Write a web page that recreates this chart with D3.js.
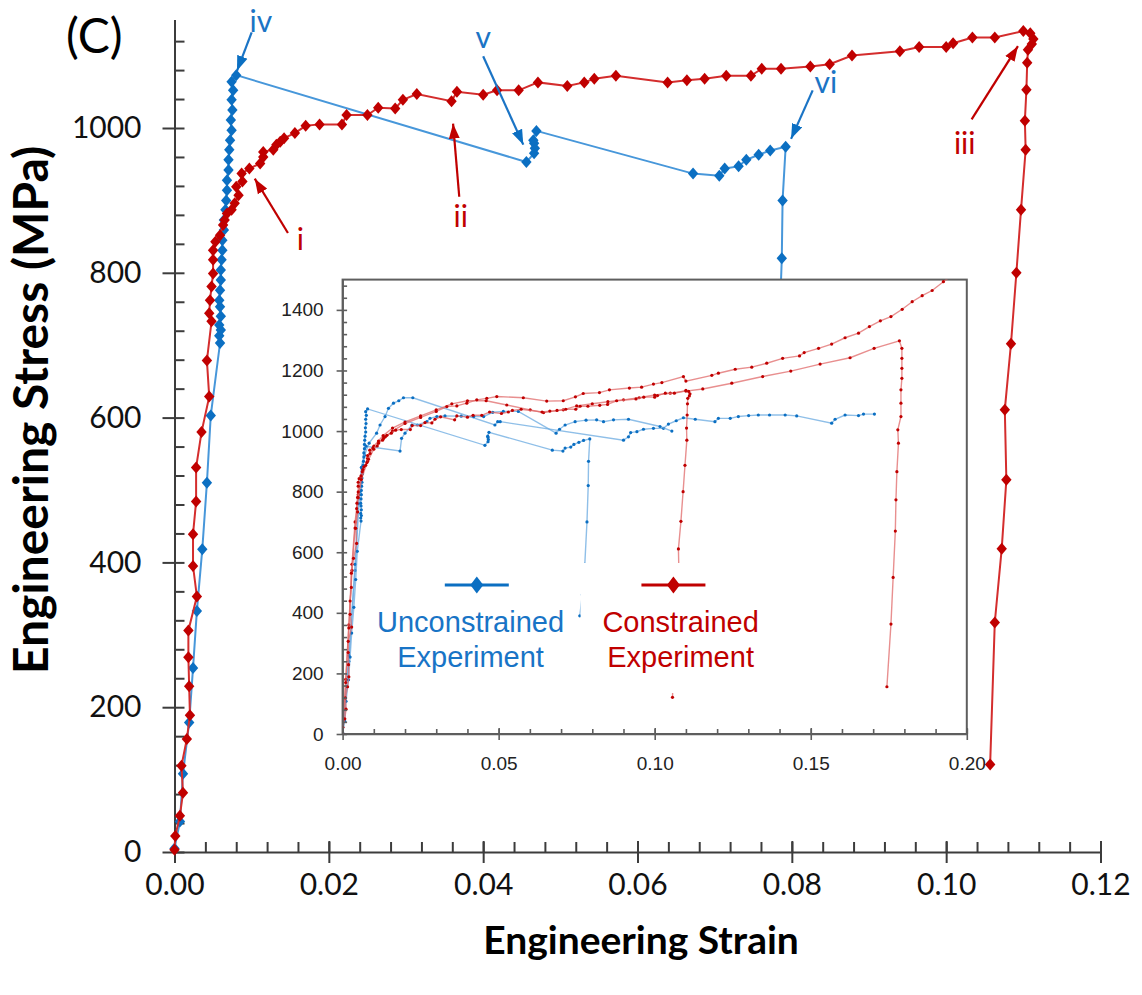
<!DOCTYPE html>
<html>
<head>
<meta charset="utf-8">
<script src="https://cdn.jsdelivr.net/npm/d3@7"></script>
<style>
  body { margin: 0; background: #fff; }
  svg { display: block; }
</style>
</head>
<body>
<script>
// Main test, unconstrained [strain, stress MPa]
const unconstrained = [
  [0, 5], [0.0007, 42], [0.0011, 108], [0.0019, 179], [0.0024, 254], [0.0029, 333],
  [0.0036, 418], [0.0042, 510], [0.0047, 603], [0.0059, 703], [0.0058, 713], [0.0060, 721],
  [0.0058, 728], [0.0060, 740], [0.0059, 753], [0.0058, 762], [0.0059, 776], [0.0060, 790],
  [0.0060, 804], [0.0061, 818], [0.0062, 831], [0.0062, 845], [0.0064, 859], [0.0064, 873],
  [0.0066, 887], [0.0067, 900], [0.0068, 914], [0.0068, 928], [0.0070, 942], [0.0070, 956],
  [0.0071, 970], [0.0072, 983], [0.0074, 997], [0.0073, 1011], [0.0075, 1025], [0.0074, 1039],
  [0.0076, 1052], [0.0074, 1064], [0.0080, 1073],
  [0.0456, 953], [0.0466, 965], [0.0467, 972], [0.0466, 979], [0.0465, 983], [0.0469, 996],
  [0.0672, 937], [0.0706, 934], [0.0713, 944], [0.0731, 947], [0.0741, 956], [0.0757, 963],
  [0.0772, 969], [0.0792, 974], [0.0788, 900], [0.0787, 820], [0.0783, 700], [0.0776, 560],
  [0.0768, 460], [0.0760, 390]
]

// Main test, constrained
const constrained = [
  [0, 3], [0.0001, 22], [0.0007, 50], [0.0011, 82], [0.0009, 119], [0.0016, 156], [0.0020, 189],
  [0.0019, 229], [0.0018, 269], [0.0018, 306], [0.0029, 353], [0.0024, 395], [0.0024, 439],
  [0.0028, 484], [0.0028, 531], [0.0035, 580], [0.0045, 629], [0.0042, 679], [0.0048, 733],
  [0.0045, 744], [0.0046, 762], [0.0048, 781], [0.0050, 799], [0.0050, 818], [0.0050, 831],
  [0.0053, 843], [0.0059, 852], [0.0063, 866], [0.0065, 873], [0.0068, 882], [0.0074, 887],
  [0.0078, 896], [0.0083, 907], [0.0080, 919], [0.0088, 926], [0.0087, 937], [0.0097, 944],
  [0.0111, 951], [0.0115, 960], [0.0115, 967], [0.0128, 970], [0.0132, 977], [0.0137, 981],
  [0.0142, 986], [0.0156, 993], [0.0170, 1003], [0.0188, 1005], [0.0217, 1005], [0.0223, 1018],
  [0.0250, 1018], [0.0264, 1028], [0.0286, 1027], [0.0296, 1039], [0.0314, 1047], [0.0359, 1037],
  [0.0366, 1050], [0.0400, 1046], [0.0418, 1052], [0.0446, 1052], [0.0471, 1063], [0.0509, 1058],
  [0.0531, 1063], [0.0544, 1068], [0.0572, 1072], [0.0639, 1063], [0.0664, 1066], [0.0687, 1068],
  [0.0715, 1072], [0.0747, 1072], [0.0761, 1082], [0.0786, 1082], [0.0824, 1085], [0.0849, 1088],
  [0.0878, 1100], [0.0940, 1106], [0.0965, 1112], [0.1000, 1112], [0.1009, 1117], [0.1034, 1125],
  [0.1063, 1125], [0.1100, 1134], [0.1109, 1131], [0.1113, 1123], [0.1111, 1116], [0.1106, 1108],
  [0.1105, 1090], [0.1104, 1053], [0.1102, 1010], [0.1103, 970], [0.1097, 887], [0.1091, 800],
  [0.1084, 702], [0.1076, 611], [0.1078, 514], [0.1072, 419], [0.1063, 317], [0.1057, 121]
]

// Other tests, only in the inset
const unconstrained2 = [
  [0, 0], [0.002, 240], [0.004, 540], [0.0055, 800], [0.007, 920], [0.0085, 960], [0.0109, 993],
  [0.012, 1020], [0.0136, 1048], [0.0147, 1075], [0.0163, 1092], [0.018, 1100], [0.0195, 1110],
  [0.0225, 1110], [0.0488, 1020], [0.0497, 1031], [0.0505, 1031], [0.090, 970], [0.0916, 981],
  [0.0923, 995], [0.0943, 998], [0.0964, 1006], [0.0996, 1009], [0.1028, 1009], [0.1044, 1023],
  [0.1069, 1034], [0.1092, 1044], [0.113, 1039], [0.1193, 1031], [0.1204, 1042], [0.1242, 1042],
  [0.1268, 1048], [0.1301, 1051], [0.1332, 1053], [0.1368, 1053], [0.1418, 1053], [0.1455, 1050],
  [0.1567, 1026], [0.1578, 1039], [0.161, 1053], [0.1653, 1051], [0.1669, 1056], [0.1704, 1056]
]
const unconstrained3 = [
  [0, 0], [0.002, 260], [0.004, 560], [0.005, 760], [0.006, 880], [0.0075, 950], [0.0184, 934],
  [0.0189, 976], [0.020, 993], [0.0222, 1020], [0.024, 1020], [0.027, 1031], [0.028, 1042],
  [0.0302, 1048], [0.0328, 1050], [0.038, 1049], [0.042, 1048], [0.0452, 1048], [0.0481, 1062],
  [0.0515, 1065], [0.0563, 1065], [0.0684, 993], [0.0695, 1006], [0.0713, 1020], [0.0745, 1031],
  [0.078, 1036], [0.0814, 1037], [0.0836, 1031], [0.0868, 1037], [0.0916, 1039], [0.1017, 1015],
  [0.1055, 1000]
]
const constrained2 = [
  [0, 0], [0.001, 180], [0.002, 360], [0.003, 560], [0.004, 700], [0.005, 790], [0.006, 850],
  [0.008, 910], [0.010, 950], [0.013, 985], [0.016, 1010], [0.020, 1030], [0.025, 1050],
  [0.030, 1070], [0.035, 1090], [0.040, 1100], [0.046, 1100], [0.0526, 1086], [0.0601, 1070],
  [0.0644, 1061], [0.0707, 1070], [0.075, 1083], [0.080, 1090], [0.085, 1097], [0.090, 1103],
  [0.095, 1110], [0.100, 1119], [0.105, 1125], [0.110, 1132], [0.1154, 1139], [0.1247, 1158],
  [0.1346, 1180], [0.1436, 1198], [0.153, 1221], [0.1626, 1242], [0.1703, 1273], [0.1784, 1298],
  [0.1792, 1273], [0.1792, 1240], [0.1792, 1207], [0.1792, 1174], [0.1789, 1136], [0.1789, 1092],
  [0.1789, 1048], [0.1779, 1004], [0.1781, 960], [0.1776, 866], [0.1773, 773], [0.1771, 670],
  [0.1764, 517], [0.1757, 363], [0.1744, 156]
]
const constrained3 = [
  [0, 0], [0.001, 170], [0.002, 350], [0.003, 540], [0.004, 680], [0.005, 780], [0.006, 840],
  [0.008, 900], [0.010, 940], [0.013, 975], [0.016, 1000], [0.020, 1025], [0.025, 1045],
  [0.030, 1065], [0.0334, 1081], [0.0366, 1083], [0.0398, 1092], [0.043, 1103], [0.0462, 1108],
  [0.0494, 1114], [0.0579, 1110], [0.0654, 1099], [0.0707, 1100], [0.0746, 1113], [0.0771, 1124],
  [0.0823, 1127], [0.0855, 1136], [0.0919, 1142], [0.0958, 1145], [0.0996, 1155], [0.1023, 1160],
  [0.1092, 1180], [0.110, 1165], [0.1183, 1184], [0.1204, 1191], [0.1258, 1204], [0.1311, 1211],
  [0.1359, 1224], [0.141, 1240], [0.1464, 1248], [0.1479, 1259], [0.1525, 1273], [0.1567, 1287],
  [0.161, 1308], [0.1653, 1323], [0.1688, 1345], [0.1723, 1364], [0.1757, 1378], [0.1793, 1402],
  [0.1825, 1427], [0.1857, 1447], [0.1889, 1464], [0.1925, 1493], [0.196, 1520]
]

// Ticks
const strainTicks = [0, 0.02, 0.04, 0.06, 0.08, 0.10, 0.12]
const stressTicks = [0, 200, 400, 600, 800, 1000]
const insetStrainTicks = [0, 0.05, 0.10, 0.15, 0.20]
const insetStressTicks = [0, 200, 400, 600, 800, 1000, 1200, 1400]
const legendNames = [['Unconstrained', 'Experiment'], ['Constrained', 'Experiment']]

// Labels i-vi: text point, arrow start, arrow tip (strain, stress)
const annotations = [
  { text: 'iv', kind: 'blue', at: [0.0112, 1133], from: [0.0100, 1132], to: [0.0081, 1079] },
  { text: 'v', kind: 'blue', at: [0.0400, 1110], from: [0.0400, 1099], to: [0.0452, 977] },
  { text: 'vi', kind: 'blue', at: [0.0844, 1048], from: [0.0827, 1052], to: [0.0799, 985] },
  { text: 'i', kind: 'red', at: [0.0163, 831], from: [0.0147, 855], to: [0.0104, 930] },
  { text: 'ii', kind: 'red', at: [0.0371, 863], from: [0.0369, 905], to: [0.0361, 1006] },
  { text: 'iii', kind: 'red', at: [0.1024, 964], from: [0.1033, 1012], to: [0.1093, 1113] }
]

// Colors
const blue = '#0b6fc2'
const blueLine = '#4797da'
const red = '#c00000'
const redLine = '#d42d2d'
const axisColor = '#3c3c3c'
const mainFont = 'Lato, "Open Sans", sans-serif'
const insetFont = '"Liberation Sans", Arial, sans-serif'

const width = 1142
const height = 995

const svg = d3.select('body').append('svg')
  .attr('width', width)
  .attr('height', height)

const defs = svg.append('defs')
;[['blue', blue], ['red', red]].forEach(([id, color]) => {
  defs.append('marker')
    .attr('id', 'arrow-' + id)
    .attr('viewBox', '-15 -6 15 12')
    .attr('refX', 0)
    .attr('refY', 0)
    .attr('markerUnits', 'userSpaceOnUse')
    .attr('markerWidth', 15)
    .attr('markerHeight', 12)
    .attr('orient', 'auto')
    .append('path')
    .attr('d', 'M-15,-5.5L0,0L-15,5.5Z')
    .attr('fill', color)
})

const diamond = (w, h) => `M0,${-h}L${w},0L0,${h}L${-w},0Z`

// Main scales
const x = d3.scaleLinear().domain([0, 0.12]).range([174.5, 1100.5])
const y = d3.scaleLinear().domain([0, 1150]).range([852, 19.4])

const minorStrain = d3.range(0, 0.12 + 1e-9, 0.004)
const minorStress = d3.range(0, 1121, 40)

// X axis
const gx = svg.append('g').attr('transform', `translate(0, ${y(0)})`)
gx.call(d3.axisBottom(x).tickValues(minorStrain).tickSize(-10).tickSizeOuter(0).tickFormat(''))
gx.append('g').call(d3.axisBottom(x).tickValues(strainTicks).tickSize(-11).tickSizeOuter(0).tickFormat(''))
  .select('.domain').remove()
gx.append('g').call(d3.axisBottom(x).tickValues(strainTicks).tickSize(11).tickSizeOuter(0)
  .tickPadding(11).tickFormat(d3.format('.2f')))
  .select('.domain').remove()

// Y axis
const gy = svg.append('g').attr('transform', `translate(${x(0)}, 0)`)
gy.call(d3.axisLeft(y).tickValues(minorStress).tickSize(-10).tickSizeOuter(0).tickFormat(''))
gy.append('g').call(d3.axisLeft(y).tickValues(stressTicks).tickSize(12).tickSizeOuter(0)
  .tickPadding(21).tickFormat(d3.format('d')))
  .select('.domain').remove()

svg.selectAll('.domain, .tick line')
  .attr('stroke', axisColor)
  .attr('stroke-width', 2)
svg.selectAll('.tick text')
  .attr('font-family', mainFont)
  .attr('font-size', 30)
  .attr('fill', '#111')

// Axis titles
svg.append('text')
  .attr('x', 641)
  .attr('y', 954)
  .attr('text-anchor', 'middle')
  .attr('font-family', mainFont)
  .attr('font-weight', 'bold')
  .attr('font-size', 39)
  .text('Engineering Strain')

svg.append('text')
  .attr('transform', 'translate(48, 410) rotate(-90)')
  .attr('text-anchor', 'middle')
  .attr('font-family', mainFont)
  .attr('font-weight', 'bold')
  .attr('font-size', 48)
  .text('Engineering Stress (MPa)')

svg.append('text')
  .attr('x', 66)
  .attr('y', 53)
  .attr('font-family', mainFont)
  .attr('font-size', 48)
  .text('(C)')

// Main series
const mainLine = d3.line().x(d => x(d[0])).y(d => y(d[1]))

function drawMain(data, lineColor, markColor) {
  const g = svg.append('g')
  g.append('path')
    .datum(data)
    .attr('d', mainLine)
    .attr('fill', 'none')
    .attr('stroke', lineColor)
    .attr('stroke-width', 2)
  g.selectAll('path.mark')
    .data(data)
    .enter()
    .append('path')
    .attr('class', 'mark')
    .attr('d', diamond(5.2, 6))
    .attr('transform', d => `translate(${x(d[0])}, ${y(d[1])})`)
    .attr('fill', markColor)
}

drawMain(unconstrained, blueLine, blue)
drawMain(constrained, redLine, red)

// Annotations
annotations.forEach(a => {
  const color = a.kind === 'blue' ? '#1b74c5' : red
  svg.append('line')
    .attr('x1', x(a.from[0]))
    .attr('y1', y(a.from[1]))
    .attr('x2', x(a.to[0]))
    .attr('y2', y(a.to[1]))
    .attr('stroke', color)
    .attr('stroke-width', 2.2)
    .attr('marker-end', `url(#arrow-${a.kind})`)
  svg.append('text')
    .attr('x', x(a.at[0]))
    .attr('y', y(a.at[1]))
    .attr('text-anchor', 'middle')
    .attr('font-family', mainFont)
    .attr('font-size', 30)
    .attr('fill', color)
    .text(a.text)
})

// Inset
const ix = d3.scaleLinear().domain([0, 0.2]).range([342.6, 966.8])
const iy = d3.scaleLinear().domain([0, 1500]).range([734, 279.6])
const inset = svg.append('g')

inset.append('rect')
  .attr('x', ix(0))
  .attr('y', iy(1500))
  .attr('width', ix(0.2) - ix(0))
  .attr('height', iy(0) - iy(1500))
  .attr('fill', '#fff')
  .attr('stroke', '#5e5e5e')
  .attr('stroke-width', 2)

defs.append('clipPath')
  .attr('id', 'inset-clip')
  .append('rect')
  .attr('x', ix(0))
  .attr('y', iy(1500))
  .attr('width', ix(0.2) - ix(0))
  .attr('height', iy(0) - iy(1500))

const insetLine = d3.line().x(d => ix(d[0])).y(d => iy(d[1]))
const plot = inset.append('g').attr('clip-path', 'url(#inset-clip)')

function drawInset(data, lineColor, markColor) {
  plot.append('path')
    .datum(data)
    .attr('d', insetLine)
    .attr('fill', 'none')
    .attr('stroke', lineColor)
    .attr('stroke-width', 1.4)
    .attr('stroke-opacity', 0.75)
  plot.append('g')
    .selectAll('circle')
    .data(data)
    .enter()
    .append('circle')
    .attr('cx', d => ix(d[0]))
    .attr('cy', d => iy(d[1]))
    .attr('r', 1.6)
    .attr('fill', markColor)
}

drawInset(unconstrained2, '#6aa9e0', blue)
drawInset(unconstrained3, '#6aa9e0', blue)
drawInset(unconstrained, '#6aa9e0', blue)
drawInset(constrained2, '#e06a6a', red)
drawInset(constrained3, '#e06a6a', red)
drawInset(constrained, '#e06a6a', red)

// Inset axes
const igx = inset.append('g').attr('transform', `translate(0, ${iy(0)})`)
igx.call(d3.axisBottom(ix).tickValues(d3.range(0, 0.2001, 0.01)).tickSize(-5).tickSizeOuter(0).tickFormat(''))
igx.append('g').call(d3.axisBottom(ix).tickValues(insetStrainTicks).tickSize(-6).tickSizeOuter(0).tickFormat(''))
  .select('.domain').remove()
igx.append('g').call(d3.axisBottom(ix).tickValues(insetStrainTicks).tickSize(6).tickSizeOuter(0)
  .tickPadding(17).tickFormat(d3.format('.2f')))
  .select('.domain').remove()

const igy = inset.append('g').attr('transform', `translate(${ix(0)}, 0)`)
igy.call(d3.axisLeft(iy).tickValues(d3.range(0, 1481, 40)).tickSize(-4.5).tickSizeOuter(0).tickFormat(''))
igy.append('g').call(d3.axisLeft(iy).tickValues(insetStressTicks).tickSize(6).tickSizeOuter(0)
  .tickPadding(13).tickFormat(d3.format('d')))
  .select('.domain').remove()

inset.selectAll('.domain, .tick line')
  .attr('stroke', '#5e5e5e')
  .attr('stroke-width', 1.6)
inset.selectAll('.tick text')
  .attr('font-family', insetFont)
  .attr('font-size', 19)
  .attr('fill', '#222')

// Inset legend
const legendItems = [
  { names: legendNames[0], color: blue, cx: 0.043, tx: 0.041 },
  { names: legendNames[1], color: red, cx: 0.106, tx: 0.1083 }
]
legendItems.forEach(item => {
  const g = inset.append('g')
  g.append('rect')
    .attr('x', ix(item.tx) - 100)
    .attr('y', 563)
    .attr('width', 200)
    .attr('height', 130)
    .attr('fill', '#fff')
  g.append('line')
    .attr('x1', ix(item.cx) - 32)
    .attr('x2', ix(item.cx) + 32)
    .attr('y1', 585)
    .attr('y2', 585)
    .attr('stroke', item.color)
    .attr('stroke-width', 3)
  g.append('path')
    .attr('d', diamond(6.5, 8.5))
    .attr('transform', `translate(${ix(item.cx)}, 585)`)
    .attr('fill', item.color)
  item.names.forEach((name, i) => {
    g.append('text')
      .attr('x', ix(item.tx))
      .attr('y', 632 + i * 35)
      .attr('text-anchor', 'middle')
      .attr('font-family', insetFont)
      .attr('font-size', 29)
      .attr('fill', item.color === blue ? '#1874c6' : '#c00000')
      .text(name)
  })
})
</script>
</body>
</html>
